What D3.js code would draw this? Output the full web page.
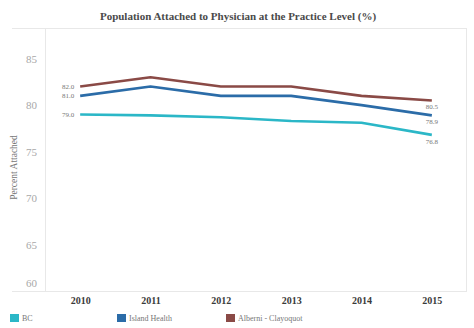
<!DOCTYPE html>
<html>
<head>
<meta charset="utf-8">
<script src="https://cdn.jsdelivr.net/npm/d3@7"></script>
<style>
  html, body { margin: 0; padding: 0; background: #fff; }
  svg { display: block; }
  text { font-family: "Liberation Serif", "DejaVu Serif", serif; }
</style>
</head>
<body>
<script>
// Years on the horizontal axis
const years = ["2010", "2011", "2012", "2013", "2014", "2015"];
// Percent of population attached to a physician
const bcValues = [79.0, 78.9, 78.7, 78.3, 78.1, 76.8];
const islandValues = [81.0, 82.0, 81.0, 81.0, 80.0, 78.9];
const alberniValues = [82.0, 83.0, 82.0, 82.0, 81.0, 80.5];
const seriesNames = ["BC", "Island Health", "Alberni - Clayoquot"];
const seriesColors = ["#2bb7c7", "#2b6ca8", "#8a4a46"];
const yTicks = [60, 65, 70, 75, 80, 85];

const W = 474, H = 328;
const plot = { left: 45, right: 467, top: 28, bottom: 291 };

const svg = d3.select("body").append("svg")
  .attr("width", W).attr("height", H);

svg.append("text")
  .attr("x", 238).attr("y", 20)
  .attr("text-anchor", "middle")
  .attr("font-size", 11)
  .attr("font-weight", "bold")
  .attr("fill", "#4a4a4a")
  .text("Population Attached to Physician at the Practice Level (%)");

const x = d3.scalePoint().domain(years)
  .range([plot.left, plot.right]).padding(0.5);
const y = d3.scaleLinear().domain([60, 88.3])
  .range([plot.bottom, plot.top]);

// frame lines
const frame = svg.append("g").attr("stroke", "#e8e8e8").attr("stroke-width", 1);
frame.append("line").attr("x1", 12).attr("x2", plot.right).attr("y1", plot.top + 0.5).attr("y2", plot.top + 0.5);
frame.append("line").attr("x1", 12).attr("x2", plot.right).attr("y1", plot.bottom + 0.5).attr("y2", plot.bottom + 0.5);
frame.append("line").attr("x1", plot.left + 0.5).attr("x2", plot.left + 0.5).attr("y1", plot.top).attr("y2", plot.bottom);
frame.append("line").attr("x1", plot.right - 0.5).attr("x2", plot.right - 0.5).attr("y1", plot.top).attr("y2", plot.bottom);

// y axis
const yAxis = d3.axisLeft(y).tickValues(yTicks).tickSize(0).tickPadding(8);
const yg = svg.append("g").attr("transform", `translate(${plot.left},0)`).call(yAxis);
yg.select(".domain").remove();
yg.selectAll("text")
  .attr("font-family", "Liberation Serif, DejaVu Serif, serif")
  .attr("font-size", 11).attr("fill", "#a8a8a8")
  .attr("dy", d => d === 60 ? "-0.4em" : "0.32em");

svg.append("text")
  .attr("transform", `translate(17,${(plot.top + plot.bottom) / 2 + 8}) rotate(-90)`)
  .attr("text-anchor", "middle")
  .attr("font-size", 9.5).attr("fill", "#777")
  .text("Percent Attached");

// x axis
const xAxis = d3.axisBottom(x).tickSize(0).tickPadding(6);
const xg = svg.append("g").attr("transform", `translate(0,${plot.bottom})`).call(xAxis);
xg.select(".domain").remove();
xg.selectAll("text")
  .attr("font-family", "Liberation Serif, DejaVu Serif, serif")
  .attr("font-size", 10).attr("font-weight", "bold").attr("fill", "#3a3a3a");

// lines
const allSeries = [bcValues, islandValues, alberniValues];
const line = d3.line().x((d, i) => x(years[i])).y(d => y(d));

allSeries.forEach((vals, k) => {
  svg.append("path")
    .datum(vals)
    .attr("fill", "none")
    .attr("stroke", seriesColors[k])
    .attr("stroke-width", 2.6)
    .attr("stroke-linejoin", "round")
    .attr("d", line);
});

// value labels at start and end of each line
const fmt = d3.format(".1f");
allSeries.forEach((vals, k) => {
  const first = vals[0], last = vals[vals.length - 1];
  svg.append("text")
    .attr("x", x(years[0]) - 6).attr("y", y(first))
    .attr("dy", "0.32em")
    .attr("text-anchor", "end")
    .attr("font-size", 7).attr("fill", "#777")
    .text(fmt(first));
  svg.append("text")
    .attr("x", x(years[years.length - 1])).attr("y", y(last) + 9)
    .attr("text-anchor", "middle")
    .attr("font-size", 7).attr("fill", "#777")
    .text(fmt(last));
});

// legend
const legendX = [10, 117, 226];
const lg = svg.append("g");
seriesNames.forEach((name, k) => {
  lg.append("rect")
    .attr("x", legendX[k]).attr("y", 314)
    .attr("width", 9).attr("height", 8)
    .attr("fill", seriesColors[k]);
  lg.append("text")
    .attr("x", legendX[k] + 12).attr("y", 321)
    .attr("font-size", 8).attr("fill", "#777")
    .text(name);
});
</script>
</body>
</html>
